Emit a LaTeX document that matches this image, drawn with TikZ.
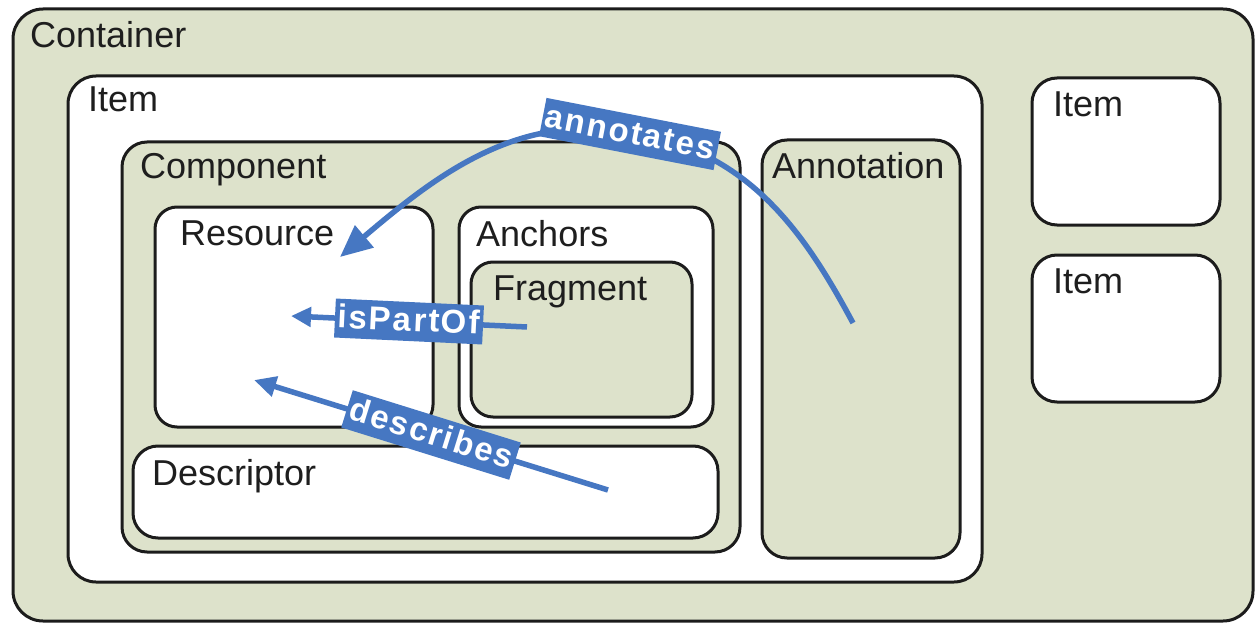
\documentclass[tikz,border=0pt]{standalone}
\usepackage{fontspec}
\setmainfont{Liberation Sans}
\newfontfamily\lblfont[LetterSpace=6]{Liberation Sans Bold}
\usetikzlibrary{arrows.meta}
\definecolor{boxgreen}{RGB}{221,226,203}
\definecolor{relblue}{RGB}{70,119,194}
\definecolor{edgec}{RGB}{28,28,28}
\definecolor{textc}{RGB}{30,30,30}
\begin{document}
\begin{tikzpicture}[x=1pt,y=-1pt,
  box/.style={draw=edgec, line width=3pt, rounded corners=#1, anchor=north west,
    inner sep=0pt, outer sep=0pt},
  gbox/.style={box=#1, fill=boxgreen},
  wbox/.style={box=#1, fill=white},
  lbl/.style={anchor=base west, inner sep=0pt, text=textc, font=\fontsize{36}{40}\selectfont},
  rel/.style={draw=relblue, line width=5.5pt},
  rl/.style={fill=relblue, text=white, font=\lblfont\fontsize{33}{36}\selectfont,
    inner xsep=3pt, inner ysep=4pt, text height=25pt, text depth=6pt}
]
\useasboundingbox (0,0) rectangle (1255,623);
\fill[white] (0,0) rectangle (1255,623);
% boxes
\node[gbox=30pt, minimum width=1240pt, minimum height=612pt] (container) at (13,9) {};
\node[wbox=28pt, minimum width=914pt, minimum height=506pt] (item) at (68,76) {};
\node[gbox=25pt, minimum width=618pt, minimum height=410pt] (component) at (122,142) {};
\node[wbox=22pt, minimum width=278pt, minimum height=220pt] (resource) at (155,207) {};
\node[wbox=22pt, minimum width=254pt, minimum height=220pt] (anchors) at (459,207) {};
\node[gbox=22pt, minimum width=221pt, minimum height=155pt] (fragment) at (471,262) {};
\node[wbox=25pt, minimum width=585pt, minimum height=92pt] (descriptor) at (133,446) {};
\node[gbox=25pt, minimum width=198pt, minimum height=418pt] (annotation) at (762,140) {};
\node[wbox=25pt, minimum width=188pt, minimum height=147pt] (itemA) at (1032,78) {};
\node[wbox=25pt, minimum width=188pt, minimum height=147pt] (itemB) at (1032,255) {};
% titles
\node[lbl] (tContainer) at (30,48) {Container};
\node[lbl] (tItem) at (88,112) {Item};
\node[lbl] (tComponent) at (140,178) {Component};
\node[lbl] (tResource) at (180,245) {Resource};
\node[lbl] (tAnchors) at (476,246) {Anchors};
\node[lbl] (tFragment) at (493,300) {Fragment};
\node[lbl] (tAnnotation) at (772,178) {Annotation};
\node[lbl] (tDescriptor) at (152,485) {Descriptor};
\node[lbl] (tItemA) at (1053,117) {Item};
\node[lbl] (tItemB) at (1053,293) {Item};
% relations
\coordinate (annS) at (853,323);
\coordinate (annM) at (600,129);
\coordinate (annE) at (340,257);
\coordinate (ipS) at (527,327);
\coordinate (ipE) at (291,316);
\coordinate (deS) at (608,490);
\coordinate (deE) at (254,380);
\draw[rel, -{Triangle[length=32pt,width=28pt]}] (annS) .. controls (801,226) and (740,137) .. (annM)
  .. controls (500,123) and (424,186) .. (annE);
\node[rl, rotate=-11] (lAnn) at (630,134) {annotates};
\draw[rel, -{Triangle[length=20pt,width=19pt]}] (ipS) -- (ipE)
  node[rl, midway, rotate=-2.7] (lIp) {isPartOf};
\draw[rel, -{Triangle[length=22pt,width=20pt]}] (deS) -- (deE)
  node[rl, midway, rotate=-17.3] (lDe) {describes};
\end{tikzpicture}
\end{document}
